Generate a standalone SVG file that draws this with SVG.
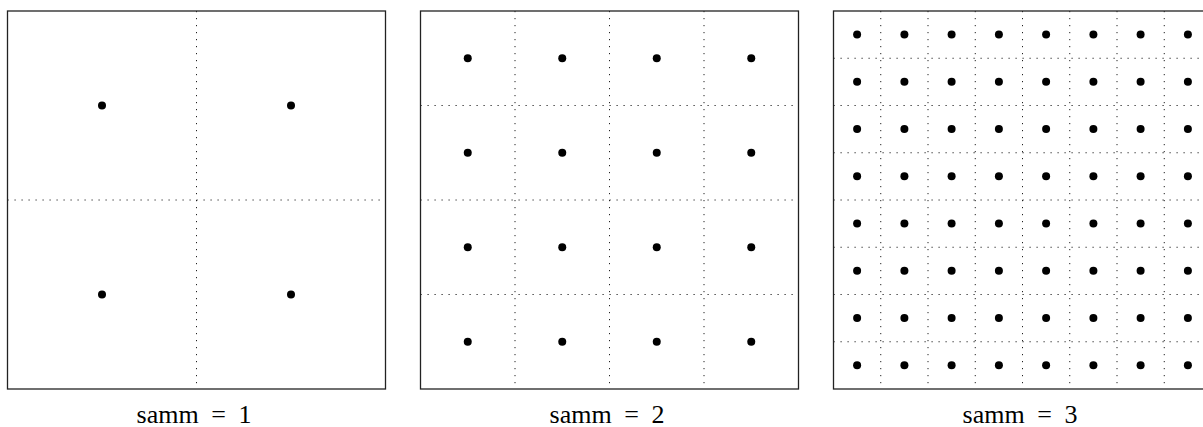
<svg xmlns="http://www.w3.org/2000/svg" width="1203" height="427" viewBox="0 0 1203 427">
<defs>
<style>
.frame{fill:none;stroke:#222;stroke-width:1.3}
.grid{fill:none;stroke:#222;stroke-width:1;stroke-dasharray:1.2 5.8}
.dot{fill:#000}
.lbl{font-family:"Liberation Serif","DejaVu Serif",serif;font-size:26px;word-spacing:6px;fill:#000;text-anchor:middle}
</style>
<circle id="d" r="4" class="dot"/>
</defs>
<rect width="1203" height="427" fill="#fff"/>
<g id="connectors">
<path class="grid" d="M196.5 11V389M7.5 200H385.5"/>
<path class="grid" d="M515 11V389M609.5 11V389M704 11V389M420.5 105.5H798.5M420.5 200H798.5M420.5 294.5H798.5"/>
<path class="grid" d="M880.75 11V389M928 11V389M975.25 11V389M1022.5 11V389M1069.75 11V389M1117 11V389M1164.25 11V389M833.5 58.25H1211.5M833.5 105.5H1211.5M833.5 152.75H1211.5M833.5 200H1211.5M833.5 247.25H1211.5M833.5 294.5H1211.5M833.5 341.75H1211.5"/>
</g>
<g id="panel1">
<rect class="frame" x="7.5" y="11" width="378" height="378"/>
<use href="#d" x="102" y="105.5"/><use href="#d" x="291" y="105.5"/>
<use href="#d" x="102" y="294.5"/><use href="#d" x="291" y="294.5"/>
<text class="lbl" x="194" y="423">samm = 1</text>
</g>
<g id="panel2">
<rect class="frame" x="420.5" y="11" width="378" height="378"/>
<g><use href="#d" x="467.75" y="58.25"/><use href="#d" x="562.25" y="58.25"/><use href="#d" x="656.75" y="58.25"/><use href="#d" x="751.25" y="58.25"/></g>
<g><use href="#d" x="467.75" y="152.75"/><use href="#d" x="562.25" y="152.75"/><use href="#d" x="656.75" y="152.75"/><use href="#d" x="751.25" y="152.75"/></g>
<g><use href="#d" x="467.75" y="247.25"/><use href="#d" x="562.25" y="247.25"/><use href="#d" x="656.75" y="247.25"/><use href="#d" x="751.25" y="247.25"/></g>
<g><use href="#d" x="467.75" y="341.75"/><use href="#d" x="562.25" y="341.75"/><use href="#d" x="656.75" y="341.75"/><use href="#d" x="751.25" y="341.75"/></g>
<text class="lbl" x="607" y="423">samm = 2</text>
</g>
<g id="panel3">
<rect class="frame" x="833.5" y="11" width="378" height="378"/>
<g id="p3row">
<use href="#d" x="857.1" y="34.6"/><use href="#d" x="904.4" y="34.6"/><use href="#d" x="951.6" y="34.6"/><use href="#d" x="998.9" y="34.6"/><use href="#d" x="1046.1" y="34.6"/><use href="#d" x="1093.4" y="34.6"/><use href="#d" x="1140.6" y="34.6"/><use href="#d" x="1187.9" y="34.6"/>
</g>
<use href="#p3row" y="47.25"/>
<use href="#p3row" y="94.5"/>
<use href="#p3row" y="141.75"/>
<use href="#p3row" y="189"/>
<use href="#p3row" y="236.25"/>
<use href="#p3row" y="283.5"/>
<use href="#p3row" y="330.75"/>
<text class="lbl" x="1020" y="423">samm = 3</text>
</g>
</svg>
